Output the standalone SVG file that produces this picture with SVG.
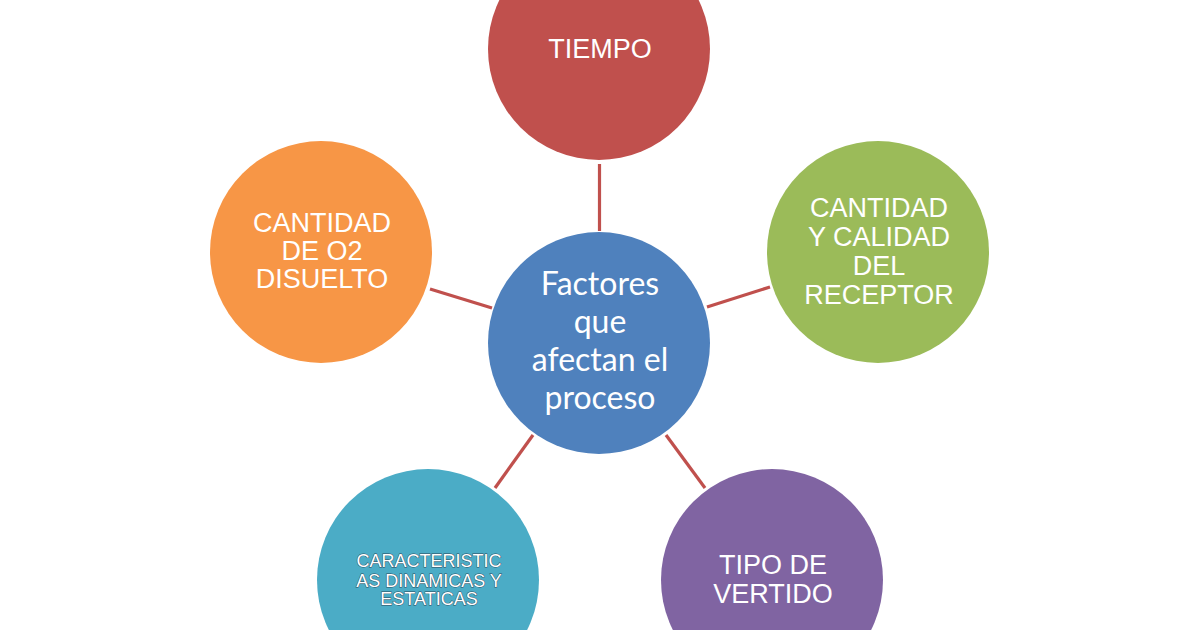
<svg xmlns="http://www.w3.org/2000/svg" width="1200" height="630" viewBox="0 0 1200 630">
<style>
.lbl{font-family:"Liberation Sans",Arial,sans-serif;font-size:27px;fill:#fff;text-anchor:middle}
.ctr{font-family:Lato,"Open Sans",sans-serif;font-size:32px;fill:#fff;text-anchor:middle}
.small{font-family:"Liberation Sans",Arial,sans-serif;font-size:18px;fill:#fff;text-anchor:middle;stroke:#2a4a5a;stroke-width:0.9;paint-order:stroke}
.conn{stroke:#c0504d;stroke-width:3.2;fill:none}
</style>
<rect width="1200" height="630" fill="#fff"/>
<g id="connectors">
<line class="conn" x1="599.5" y1="164" x2="599.5" y2="231"/>
<line class="conn" x1="430" y1="289" x2="492" y2="308"/>
<line class="conn" x1="707" y1="307" x2="770" y2="287"/>
<line class="conn" x1="495" y1="488" x2="533" y2="435"/>
<line class="conn" x1="666" y1="435" x2="705" y2="488"/>
</g>
<g id="tiempo">
<circle cx="599" cy="49" r="111" fill="#c0504d"/>
<text class="lbl" x="600" y="58">TIEMPO</text>
</g>
<g id="centro">
<circle cx="599" cy="343" r="111" fill="#4f81bd"/>
<text class="ctr" x="600" y="295">Factores</text>
<text class="ctr" x="600" y="333">que</text>
<text class="ctr" x="600" y="371">afectan el</text>
<text class="ctr" x="600" y="409">proceso</text>
</g>
<g id="oxigeno">
<circle cx="321" cy="252" r="111" fill="#f79646"/>
<text class="lbl" x="322" y="232">CANTIDAD</text>
<text class="lbl" x="322" y="260">DE O2</text>
<text class="lbl" x="322" y="288">DISUELTO</text>
</g>
<g id="receptor">
<circle cx="878" cy="252" r="111" fill="#9bbb59"/>
<text class="lbl" x="879" y="217">CANTIDAD</text>
<text class="lbl" x="879" y="246">Y CALIDAD</text>
<text class="lbl" x="879" y="275">DEL</text>
<text class="lbl" x="879" y="304">RECEPTOR</text>
</g>
<g id="caracteristicas">
<circle cx="428" cy="580" r="111" fill="#4bacc6"/>
<text class="small" x="429" y="567">CARACTERISTIC</text>
<text class="small" x="429" y="587">AS DINAMICAS Y</text>
<text class="small" x="429" y="605">ESTATICAS</text>
</g>
<g id="vertido">
<circle cx="772" cy="580" r="111" fill="#8064a2"/>
<text class="lbl" x="773" y="574">TIPO DE</text>
<text class="lbl" x="773" y="603">VERTIDO</text>
</g>
</svg>
